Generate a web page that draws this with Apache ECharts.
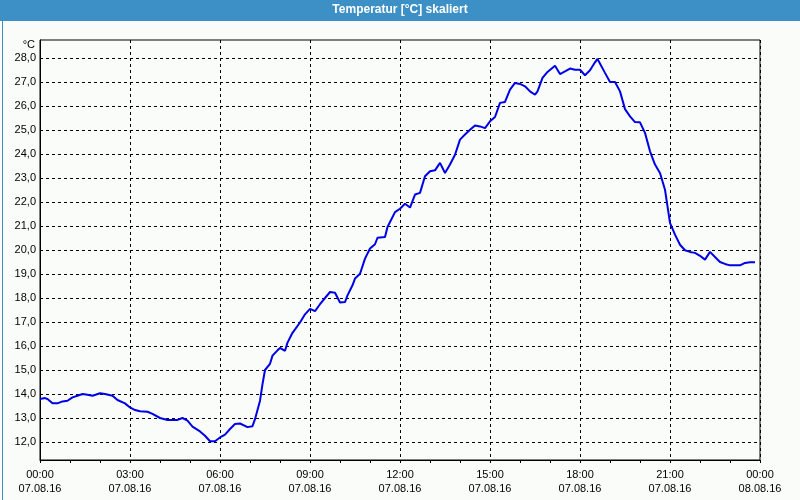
<!DOCTYPE html>
<html>
<head>
<meta charset="utf-8">
<script src="https://cdn.jsdelivr.net/npm/echarts@6/dist/echarts.min.js"></script>
<style>
html,body{margin:0;padding:0;background:#fafcfa;}
#chart{width:800px;height:500px;}
</style>
</head>
<body>
<div id="chart"></div>
<script>
// ---- data ----
var chartTitle = "Temperatur [°C] skaliert";
var unitLabel = "°C";
var times = [
 "00:00","00:10","00:15","00:25","00:35","00:45","00:55","01:05","01:15","01:25","01:35","01:45",
 "02:00","02:10","02:25","02:35","02:50","03:00","03:10","03:20","03:35","03:45","04:00","04:15",
 "04:35","04:45","04:55","05:05","05:20","05:30","05:40","05:50","06:00","06:10","06:20","06:30",
 "06:40","06:55","07:05","07:10","07:20","07:25","07:30","07:40","07:45","07:55","08:00","08:10",
 "08:15","08:25","08:40","08:50","09:00","09:10","09:20","09:30","09:40","09:50","10:00","10:10",
 "10:15","10:25","10:30","10:40","10:50","11:00","11:10","11:15","11:30","11:35","11:50","12:00",
 "12:10","12:20","12:30","12:40","12:50","13:00","13:10","13:20","13:30","13:40","13:50","14:00",
 "14:10","14:20","14:30","14:40","14:50","15:00","15:10","15:20","15:30","15:40","15:50","16:00",
 "16:10","16:20","16:30","16:35","16:45","16:55","17:10","17:20","17:30","17:40","17:50","18:00",
 "18:10","18:20","18:30","18:35","18:50","19:00","19:10","19:20","19:30","19:40","19:50","20:00",
 "20:10","20:20","20:30","20:40","20:50","20:55","21:00","21:10","21:20","21:30","21:40","21:50",
 "22:00","22:10","22:20","22:30","22:40","22:50","23:00","23:10","23:20","23:30","23:40","23:50"
];
var temps = [
 13.79,13.83,13.79,13.61,13.61,13.69,13.72,13.86,13.93,14.00,13.97,13.93,
 14.03,14.00,13.93,13.75,13.61,13.44,13.33,13.28,13.26,13.17,13.00,12.92,
 12.92,13.00,12.89,12.64,12.44,12.26,12.03,12.03,12.19,12.31,12.54,12.75,
 12.77,12.62,12.66,12.95,13.72,14.41,15.00,15.26,15.60,15.82,15.92,15.80,
 16.14,16.55,16.98,17.32,17.55,17.45,17.74,18.00,18.25,18.22,17.81,17.83,
 18.11,18.53,18.81,19.01,19.64,20.06,20.24,20.51,20.54,20.96,21.58,21.72,
 21.93,21.77,22.31,22.38,23.07,23.28,23.32,23.63,23.21,23.56,23.97,24.60,
 24.81,25.01,25.19,25.15,25.08,25.36,25.54,26.13,26.17,26.68,26.96,26.92,
 26.82,26.61,26.47,26.61,27.17,27.42,27.68,27.33,27.44,27.56,27.51,27.51,
 27.28,27.49,27.82,27.96,27.38,27.00,27.00,26.61,25.87,25.57,25.33,25.32,
 24.88,24.11,23.56,23.21,22.51,21.82,21.13,20.64,20.22,19.99,19.92,19.88,
 19.76,19.60,19.92,19.71,19.50,19.42,19.36,19.36,19.36,19.46,19.49,19.49
];
var yTicks = [12,13,14,15,16,17,18,19,20,21,22,23,24,25,26,27,28];
var xTickHours = [0,3,6,9,12,15,18,21,24];
var xTickLabels = [
 "00:00\n07.08.16","03:00\n07.08.16","06:00\n07.08.16","09:00\n07.08.16","12:00\n07.08.16",
 "15:00\n07.08.16","18:00\n07.08.16","21:00\n07.08.16","00:00\n08.08.16"
];

// ---- build ----
function toHours(t){ var p=t.split(':'); return (+p[0]) + (+p[1])/60; }
var seriesData = times.map(function(t,i){ return [toHours(t), temps[i]]; });

var FONT = '"Liberation Sans", Arial, sans-serif';
var chart = echarts.init(document.getElementById('chart'), null, {renderer:'canvas'});
var gridDash = {color:'#000', type:[3,3], width:1};

chart.setOption({
  backgroundColor:'#fafcfa',
  animation:false,
  textStyle:{fontFamily:FONT},
  graphic:[
    {type:'rect', left:0, top:0, z:-1, shape:{width:800,height:21}, style:{fill:'#3d90c6'}},
    {type:'rect', left:0, top:0, z:100, silent:true, shape:{x:0.5,y:0.5,width:799,height:499}, style:{fill:null, stroke:'#3d90c6', lineWidth:1}},
    {type:'text', left:'center', top:4, z:101, style:{text:chartTitle, fill:'#fff', font:'bold 12px '+FONT}},
    {type:'text', right:765, top:39, style:{text:unitLabel, fill:'#000', font:'11px '+FONT, align:'right'}}
  ],
  grid:{left:40, right:40, top:40, bottom:40, show:true, borderColor:'#000', borderWidth:1, backgroundColor:'#fafcfa'},
  xAxis:{
    type:'value', min:0, max:24, interval:3,
    axisLine:{show:true, lineStyle:{color:'#000', width:1}},
    axisTick:{show:true, length:3, inside:false, lineStyle:{color:'#000'}},
    minorTick:{show:true, splitNumber:3, length:3, lineStyle:{color:'#000'}},
    splitLine:{show:true, lineStyle:gridDash},
    minorSplitLine:{show:false},
    axisLabel:{
      margin:8, color:'#000', fontSize:11, lineHeight:14, fontFamily:FONT,
      showMinLabel:true, showMaxLabel:true,
      formatter:function(v){ var i = xTickHours.indexOf(Math.round(v)); return i>=0 ? xTickLabels[i] : ''; }
    }
  },
  yAxis:{
    type:'value', min:11.25, max:28.75,
    axisLine:{show:true, lineStyle:{color:'#000', width:1}},
    axisTick:{show:false},
    splitLine:{show:false},
    axisLabel:{
      customValues:yTicks, margin:4, color:'#000', fontSize:11, fontFamily:FONT,
      formatter:function(v){ return v.toFixed(1).replace('.', ','); }
    }
  },
  series:[{
    type:'line', data:seriesData, showSymbol:false, smooth:false,
    lineStyle:{color:'#0000e6', width:2}, z:5,
    markLine:{
      silent:true, symbol:['none','none'], label:{show:false}, animation:false,
      lineStyle:gridDash, z:1,
      data:yTicks.map(function(v){ return {yAxis:v}; })
    }
  }]
});
</script>
</body>
</html>
